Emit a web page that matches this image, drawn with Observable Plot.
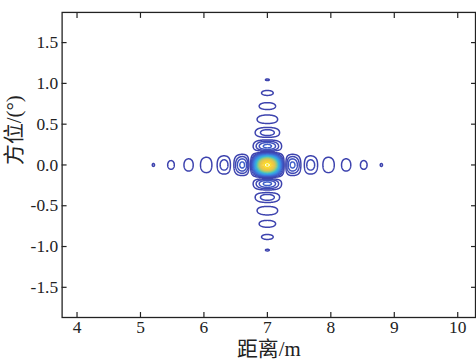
<!DOCTYPE html>
<html>
<head>
<meta charset="utf-8">
<script src="https://cdn.jsdelivr.net/npm/d3@7"></script>
<script src="https://cdn.jsdelivr.net/npm/@observablehq/plot@0.6"></script>
<style>
  html, body { margin: 0; padding: 0; background: #fff; overflow: hidden; }
  #chart { width: 476px; height: 361px; overflow: hidden; }
  #chart svg, #chart svg text { font-family: "Liberation Serif", "Times New Roman", "DejaVu Serif", "Noto Sans CJK SC", serif !important; }
</style>
</head>
<body>
<div id="chart"></div>
<script>
// ---- data ----
const xTicks = [4, 5, 6, 7, 8, 9, 10];                 // 距离/m
const yTicks = [-1.5, -1.0, -0.5, 0.0, 0.5, 1.0, 1.5];  // 方位/(°)
const xDomain = [3.765, 10.28];
const yDomain = [-1.87, 1.87];
const targetCenter = [7.0, 0.0];       // point-target position [m, °]
const nullSpacing = [0.277, 0.161];    // sinc null spacing [m, °] (sidelobe pitch)
const contourLevels = [0.048, 0.098, 0.148, 0.198, 0.248, 0.298, 0.348, 0.398, 0.448, 0.498,
                       0.548, 0.598, 0.648, 0.698, 0.748, 0.798, 0.848, 0.898, 0.948, 0.998];
const colorStops = ["#3b3ea8", "#3f4cb8", "#3d6fd6", "#3a98e6", "#3cbad2",
                    "#8ccb86", "#d8c552", "#f7c93a", "#f9e81e"];

const sinc = u => (Math.abs(u) < 1e-9 ? 1 : Math.sin(Math.PI * u) / (Math.PI * u));
const amplitude = (x, y) =>
  Math.abs(sinc((x - targetCenter[0]) / nullSpacing[0]) * sinc((y - targetCenter[1]) / nullSpacing[1]));

const font = "Liberation Serif, Times New Roman, DejaVu Serif, Noto Sans CJK SC, serif";
const ink = "#222";

const chart = Plot.plot({
  width: 479,
  height: 361,
  marginLeft: 62,
  marginRight: 1,
  marginTop: 12,
  marginBottom: 42,
  style: { fontFamily: font, color: ink, background: "#fff", overflow: "visible" },
  x: { domain: xDomain },
  y: { domain: yDomain },
  color: { type: "linear", domain: [0, 1], interpolate: d3.piecewise(d3.interpolateRgb, colorStops) },
  marks: [
    Plot.contour({
      value: amplitude,
      x1: xDomain[0], x2: xDomain[1], y1: yDomain[0], y2: yDomain[1],
      thresholds: contourLevels,
      pixelSize: 0.5,
      fill: "none",
      stroke: "value",
      strokeWidth: 1.5
    }),
    Plot.frame({ stroke: ink, strokeWidth: 1.3 }),
    Plot.axisX(xTicks, { anchor: "bottom", tickSize: -5, tickPadding: 8, fontSize: 17.5, fontFamily: font, label: null, tickFormat: d => String(d), stroke: ink, strokeWidth: 1.2 }),
    Plot.axisX(xTicks, { anchor: "top", tickSize: -5, label: null, tickFormat: () => "", stroke: ink, strokeWidth: 1.2 }),
    Plot.axisY(yTicks, { anchor: "left", tickSize: -5, tickPadding: 9, fontSize: 17.5, fontFamily: font, label: null, tickFormat: d => d.toFixed(1), stroke: ink, strokeWidth: 1.2 }),
    Plot.axisY(yTicks, { anchor: "right", tickSize: -5, label: null, tickFormat: () => "", stroke: ink, strokeWidth: 1.2 }),
    Plot.text(["距离/m"], { frameAnchor: "bottom", dy: 39, text: d => d, fontSize: 21, fontFamily: font, fill: ink }),
    Plot.text(["方位/(°)"], { frameAnchor: "left", dx: -48, rotate: -90, text: d => d, fontSize: 21, fontFamily: font, fill: ink })
  ]
});
document.getElementById("chart").appendChild(chart);
</script>
</body>
</html>
